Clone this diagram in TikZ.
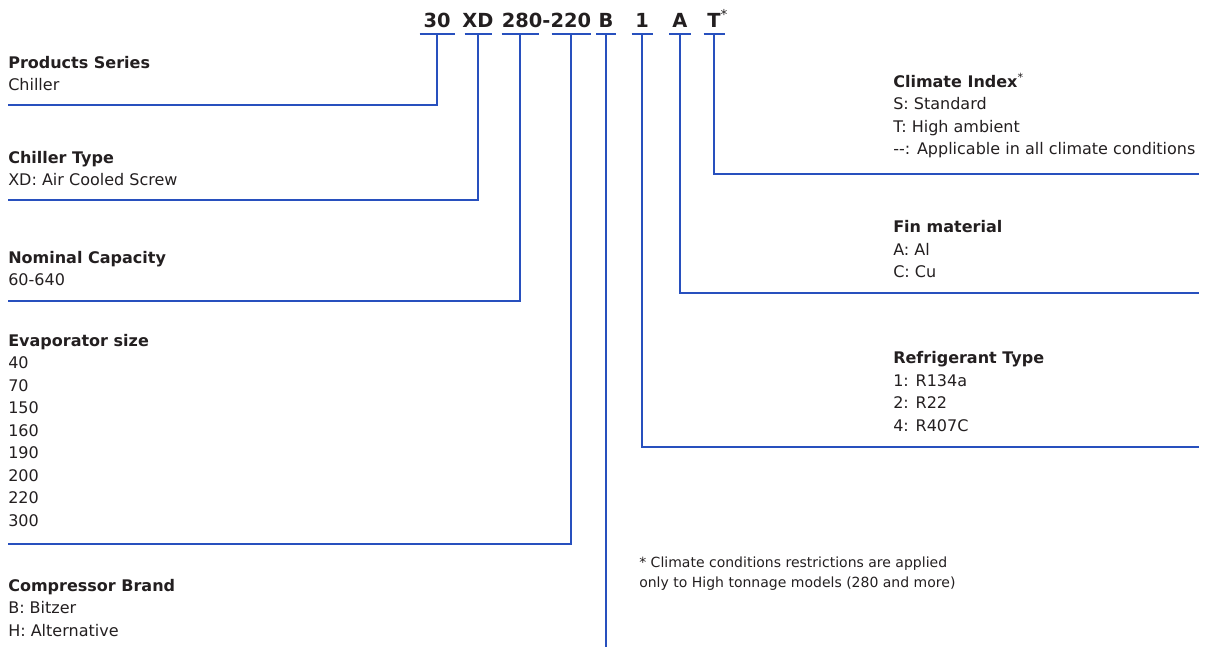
\documentclass[tikz,border=0pt]{standalone}
\usepackage{fontspec}
\setmainfont{DejaVu Sans}
\definecolor{CodeBlue}{RGB}{40,80,190}
\definecolor{InkGrey} {RGB}{35,31,32}
\usetikzlibrary{positioning,calc}

\begin{document}
\begin{tikzpicture}[x=0.025cm,y=-0.025cm,
    every node/.style={inner sep=0pt,text=InkGrey},
    codechar/.style={font=\fontsize{13.8}{16}\selectfont\bfseries,anchor=base},
    fieldbox/.style={anchor=north west,align=left,font=\fontsize{11.38}{16}\selectfont},
    notebox/.style={anchor=north west,align=left,font=\fontsize{9.96}{14.23}\selectfont},
    codeline/.style={draw=CodeBlue,line width=1.1pt}]
  \useasboundingbox (0,0) rectangle (1212,647);
  \foreach \n/\x/\t in {30/437/30, XD/478/XD, 280/546.5/280-220,
      B/606/B, 1/642/1, A/680/A, T/714/{T\rlap{\textsuperscript{\mdseries *}}}}
    \node[codechar] (c\n) at (\x,27) {\t};
  \foreach \n/\x/\w in {30/437/35, XD/478/27, 280/520/37, 220/571/39,
      B/606/20, 1/642/21, A/680/22, T/714/21}{
    \draw[codeline] (\x-\w/2,34) -- (\x+\w/2,34);
    \coordinate (u\n) at (\x,34);
  }

  \node[fieldbox] (series)  at (8,52)    {\strut\textbf{Products Series}\\Chiller};
  \node[fieldbox] (type)    at (8,147)   {\strut\textbf{Chiller Type}\\XD: Air Cooled Screw};
  \node[fieldbox] (capa)    at (8,247)   {\strut\textbf{Nominal Capacity}\\60-640};
  \node[fieldbox] (evap)    at (8,330.2) {\strut\textbf{Evaporator size}\\40\\70\\150\\160\\190\\200\\220\\300};
  \node[fieldbox] (brand)   at (8,575.2) {\strut\textbf{Compressor Brand}\\B: Bitzer\\H: Alternative};
  \node[fieldbox] (climate) at (893,71.2) {\strut\textbf{Climate Index}\textsuperscript{*}\\S: Standard\\T: High ambient\\{-}{-}: Applicable in all climate conditions};
  \node[fieldbox] (fin)     at (893,216.7) {\strut\textbf{Fin material}\\A: Al\\C: Cu};
  \node[fieldbox] (refri)   at (893,347.7) {\strut\textbf{Refrigerant Type}\\1: R134a\\2: R22\\4: R407C};
  \node[notebox]  (note)    at (639,553) {\strut* Climate conditions restrictions are applied\\only to High tonnage models (280 and more)};

  \foreach \n/\y/\e in {30/105/8, XD/200/8, 280/301/8, 220/544/8, 1/447/1199, A/293/1199, T/174/1199}{
    \coordinate (e\n) at (\e,\y);
    \draw[codeline] (u\n) |- (e\n);
  }
  \coordinate (eB) at (606,647);
  \draw[codeline] (uB) -- (eB);
\end{tikzpicture}
\end{document}
